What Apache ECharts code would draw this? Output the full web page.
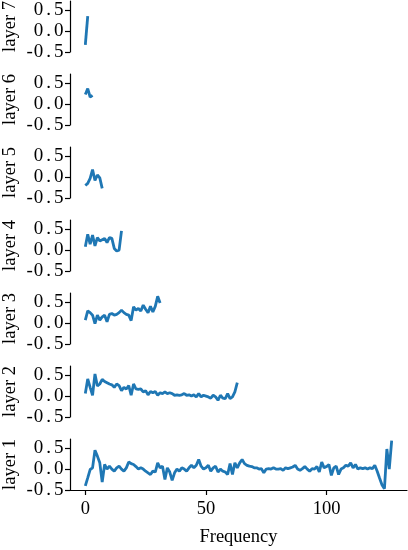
<!DOCTYPE html>
<html><head><meta charset="utf-8">
<script src="https://cdn.jsdelivr.net/npm/echarts@6/dist/echarts.min.js"></script>
<style>html,body{margin:0;padding:0;background:#fff}#c{width:408px;height:550px}</style>
</head><body><div id="c"></div>
<script>
const layerNames = ['layer 7','layer 6','layer 5','layer 4','layer 3','layer 2','layer 1'];
const xTicks = [0, 50, 100];
const yTicks = [-0.5, 0, 0.5];
const xLabel = 'Frequency';
const layer7 = [-0.33, 0.36];
const layer6 = [0.23, 0.37, 0.17, 0.21];
const layer5 = [-0.20, -0.15, -0.03, 0.18, -0.08, 0.05, -0.02, -0.27];
const layer4 = [0.08, 0.38, 0.14, 0.36, 0.10, 0.30, 0.22, 0.25, 0.28, 0.18, 0.30, 0.28, 0.04, -0.02, 0.0, 0.46];
const layer3 = [0.07, 0.29, 0.25, 0.19, -0.01, 0.19, 0.07, 0.15, 0.19, 0.03, 0.21, 0.23, 0.19, 0.21, 0.25, 0.31,
  0.25, 0.21, 0.19, 0.06, 0.39, 0.31, 0.35, 0.29, 0.43, 0.33, 0.25, 0.40, 0.27, 0.40, 0.64, 0.48];
const layer2 = [0.06, 0.41, 0.21, 0.02, 0.53, 0.24, 0.29, 0.40, 0.35, 0.32,
  0.29, 0.27, 0.21, 0.29, 0.25, 0.13, 0.21, 0.17, 0.25, 0.02,
  0.29, 0.17, 0.16, 0.17, 0.10, 0.13, 0.03, 0.11, 0.08, 0.11,
  0.02, 0.08, 0.06, 0.10, 0.06, 0.08, 0.06, 0.02, 0.03, 0.02,
  0.03, 0.06, 0.02, 0.03, 0.0, 0.03, -0.02, 0.06, -0.02, 0.02,
  0.0, -0.02, -0.05, 0.02, -0.02, -0.10, 0.02, -0.05, -0.06, 0.06,
  -0.06, -0.02, 0.10, 0.32];
const layer1 = [-0.40, -0.21, -0.01, 0.03, 0.45, 0.31, 0.15, -0.31, 0.11, 0.0,
  0.07, 0.0, -0.05, 0.03, 0.07, 0.0, -0.05, 0.03, 0.17, 0.13,
  0.11, 0.06, 0.0, 0.03, 0.0, -0.05, -0.09, -0.13, -0.05, -0.07,
  0.15, 0.03, 0.07, -0.25, 0.03, -0.07, -0.27, -0.09, 0.0, -0.05,
  0.03, 0.0, -0.05, 0.03, 0.09, 0.03, 0.09, 0.23, 0.07, 0.0,
  0.03, 0.09, -0.05, 0.03, 0.07, -0.07, 0.0, -0.05, -0.07, -0.13,
  0.13, -0.13, 0.15, 0.03, 0.15, 0.23, 0.13, 0.09, 0.07, 0.06,
  0.03, 0.03, 0.0, 0.01, -0.09, 0.0, 0.01, 0.0, 0.03, 0.0,
  0.0, 0.01, -0.03, 0.03, 0.01, 0.03, 0.05, 0.09, 0.0, -0.03,
  0.01, 0.06, 0.0, -0.05, 0.01, 0.0, 0.06, -0.07, 0.17, 0.03,
  0.06, 0.11, -0.15, 0.03, 0.07, -0.13, 0.0, 0.03, 0.09, 0.07,
  0.15, 0.03, 0.11, 0.0, 0.03, 0.01, 0.03, 0.0, 0.03, 0.01,
  0.09, -0.05, -0.22, -0.38, -0.47, 0.48, 0.0, 0.68];
const layers = [layer7, layer6, layer5, layer4, layer3, layer2, layer1];

const FONT = 'Liberation Serif';
const grids = [], xAxes = [], yAxes = [], series = [];
const yLabelFmt = v => {
  const s = (v < 0 ? '-' : '') + Math.abs(v).toFixed(1);
  return s.split('').map(ch => ch === '.' ? '{d|.}' : '{n|' + ch + '}').join('');
};
layers.forEach((vals, k) => {
  const bottomPx = 52 + 73 * k;
  grids.push({left: 70, width: 337, top: bottomPx - 51, height: 51, containLabel: false, outerBoundsMode: 'none'});
  const last = k === layers.length - 1;
  xAxes.push({
    type: 'value', gridIndex: k, min: -6.35, max: 133.35, show: last,
    splitLine: {show: false},
    axisLine: {show: true, onZero: false, lineStyle: {color: '#000', width: 1.2}},
    axisTick: {show: true, length: 5, lineStyle: {color: '#000', width: 1.2}, customValues: xTicks},
    axisLabel: {show: true, color: '#000', fontFamily: FONT, fontSize: 18.5, margin: 10, customValues: xTicks},
    name: last ? xLabel : '', nameLocation: 'middle', nameGap: 38, nameMoveOverlap: false,
    nameTextStyle: {color: '#000', fontFamily: FONT, fontSize: 18.5}
  });
  yAxes.push({
    type: 'value', gridIndex: k, min: -0.5, max: 0.72,
    splitLine: {show: false},
    axisLine: {show: true, onZero: false, lineStyle: {color: '#000', width: 1.2}},
    axisTick: {show: true, length: 5, lineStyle: {color: '#000', width: 1.2}, customValues: yTicks},
    axisLabel: {show: true, color: '#000', fontFamily: FONT, fontSize: 19, margin: 6, customValues: yTicks,
      formatter: yLabelFmt,
      rich: {
        n: {fontFamily: FONT, fontSize: 19, color: '#000', padding: [0, 0.5, 0, 0.5]},
        d: {fontFamily: FONT, fontSize: 19, color: '#000', padding: [0, 2.5, 0, 2.5]}
      }},
    name: layerNames[k], nameLocation: 'middle', nameRotate: 90, nameGap: 50, nameMoveOverlap: false,
    nameTextStyle: {color: '#000', fontFamily: FONT, fontSize: 18.5}
  });
  series.push({
    type: 'line', xAxisIndex: k, yAxisIndex: k, showSymbol: false, symbol: 'none',
    data: vals.map((v, i) => [i, v]),
    lineStyle: {color: '#1f77b4', width: 2.8}, itemStyle: {color: '#1f77b4'},
    silent: true, animation: false
  });
});
const chart = echarts.init(document.getElementById('c'), null, {renderer: 'canvas'});
chart.setOption({animation: false, grid: grids, xAxis: xAxes, yAxis: yAxes, series: series});
</script></body></html>
